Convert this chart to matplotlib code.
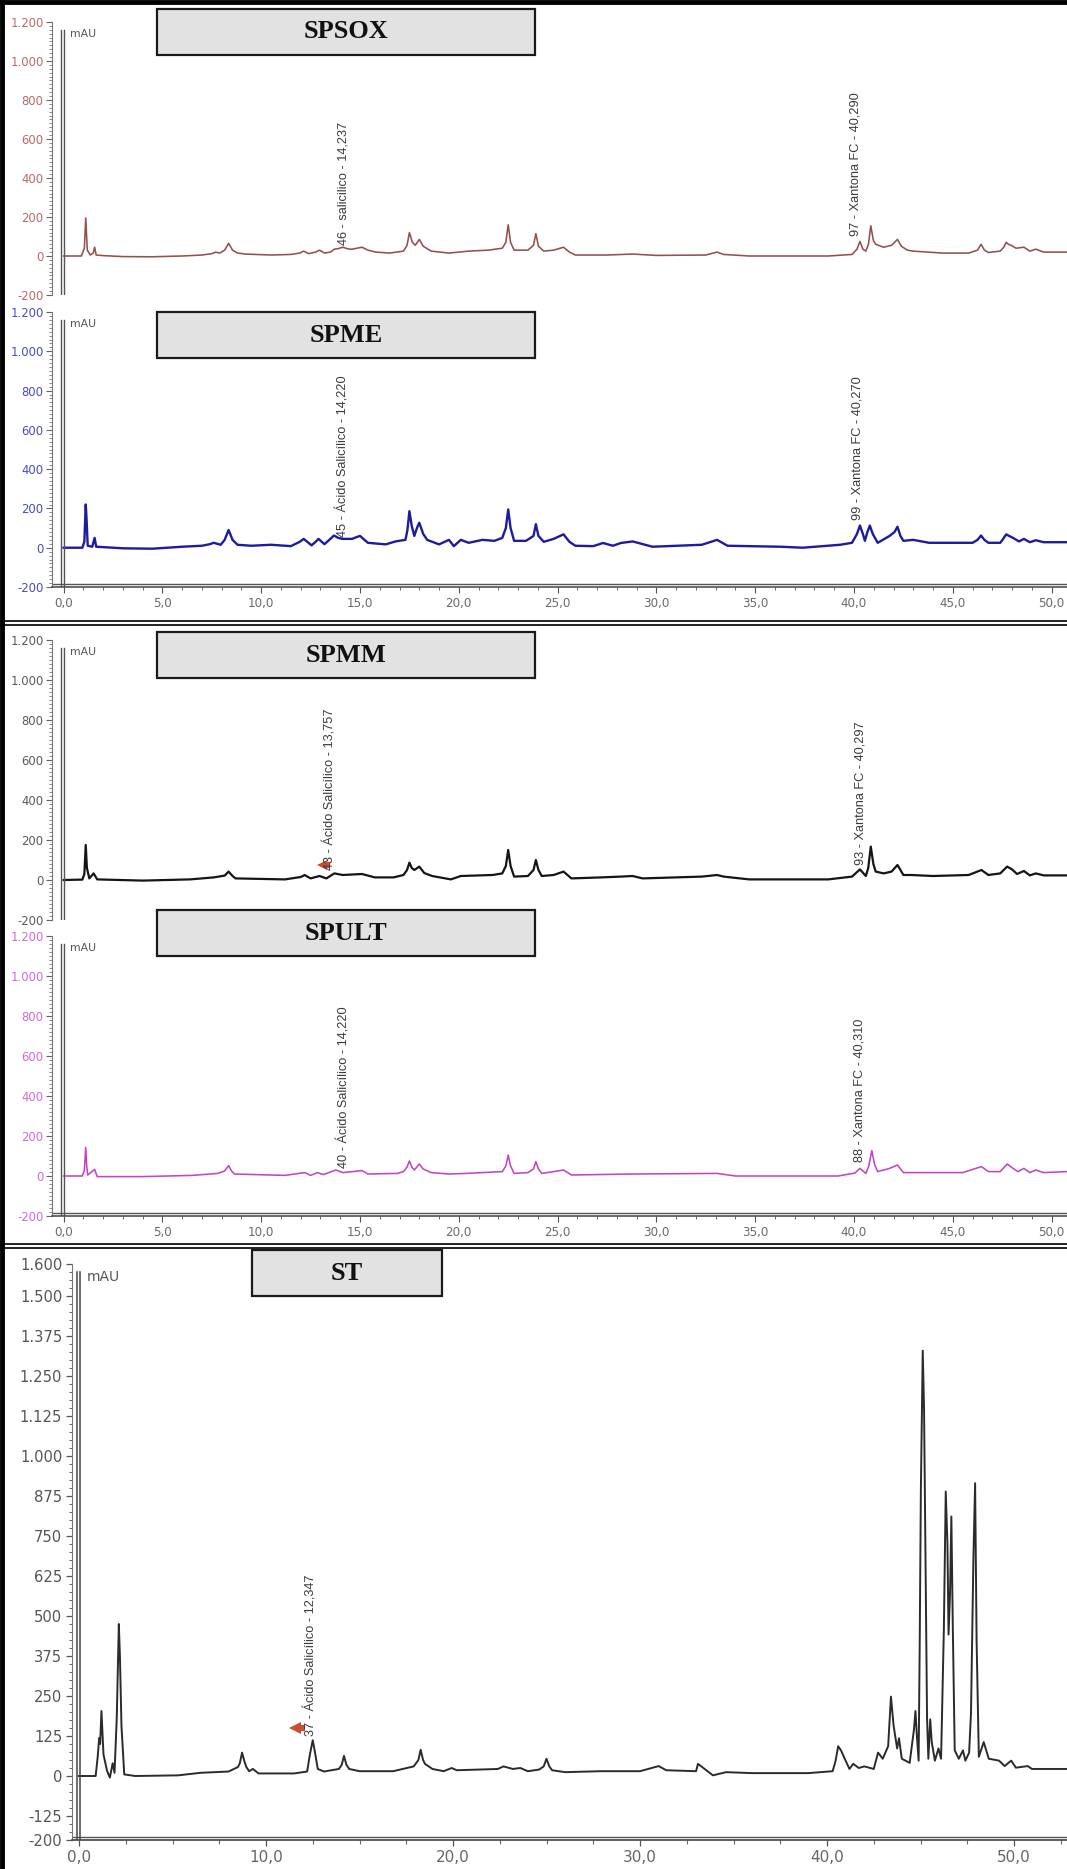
import matplotlib
matplotlib.use("Agg")
import matplotlib.pyplot as plt
from matplotlib import font_manager
from matplotlib.patches import Rectangle
from matplotlib.lines import Line2D
from matplotlib.ticker import FixedLocator, MultipleLocator, FuncFormatter

W, H = 1067, 1869

# ---- chromatogram traces: (time in min, signal in mAU) ----
spsox = [(0.0, 0), (0.9, 0), (1.05, 40), (1.12, 195), (1.2, 30), (1.35, 5), (1.5, 15), (1.57, 45),
         (1.65, 5), (2.0, 2), (3.0, -3), (4.5, -4), (6.0, 0), (7.0, 5), (7.5, 12), (7.7, 20),
         (7.9, 15), (8.15, 30), (8.35, 65), (8.55, 30), (8.8, 15), (9.2, 10), (10.5, 5), (11.5, 8),
         (11.95, 15), (12.15, 25), (12.4, 12), (12.75, 20), (12.96, 30), (13.2, 15), (13.5, 20),
         (13.7, 35), (13.9, 38), (14.13, 45), (14.4, 36), (14.6, 35), (14.85, 40), (15.1, 45),
         (15.4, 30), (15.8, 20), (16.5, 15), (17.2, 25), (17.38, 55), (17.5, 120), (17.65, 70),
         (17.8, 55), (18.0, 85), (18.2, 50), (18.6, 25), (19.5, 15), (20.5, 25), (21.5, 30),
         (22.2, 40), (22.38, 70), (22.5, 160), (22.62, 70), (22.8, 30), (23.5, 30), (23.78, 55),
         (23.9, 115), (24.03, 50), (24.3, 25), (24.8, 30), (25.3, 45), (25.6, 20), (25.9, 5),
         (27.5, 5), (28.8, 10), (30.0, 3), (32.5, 5), (33.07, 20), (33.4, 8), (34.7, 0), (38.7, 0),
         (39.9, 8), (40.15, 35), (40.3, 75), (40.45, 35), (40.6, 25), (40.73, 60), (40.85, 155),
         (40.98, 80), (41.1, 60), (41.5, 45), (41.9, 55), (42.2, 85), (42.4, 50), (42.7, 30),
         (43.0, 25), (44.5, 15), (45.8, 15), (46.25, 30), (46.43, 60), (46.6, 30), (46.8, 18),
         (47.4, 25), (47.58, 45), (47.7, 70), (47.82, 60), (47.95, 55), (48.2, 40), (48.6, 45),
         (48.9, 25), (49.2, 35), (49.6, 20), (50.8, 20)]

spme = [(0.0, 0), (0.95, 0), (1.05, 30), (1.12, 220), (1.16, 150), (1.22, 10), (1.45, 5), (1.57, 50),
        (1.65, 5), (2.0, 3), (3.0, -3), (4.5, -5), (6.0, 5), (7.0, 10), (7.4, 18), (7.6, 25),
        (7.95, 15), (8.15, 40), (8.35, 90), (8.55, 40), (8.8, 15), (9.5, 10), (10.5, 15), (11.5, 8),
        (11.95, 30), (12.15, 45), (12.55, 12), (12.75, 30), (12.9, 45), (13.2, 18), (13.5, 45),
        (13.68, 62), (13.9, 50), (14.1, 45), (14.6, 45), (14.85, 55), (15.0, 60), (15.4, 25),
        (16.3, 17), (16.8, 32), (17.3, 40), (17.4, 90), (17.5, 186), (17.62, 110), (17.75, 60),
        (17.88, 100), (18.0, 127), (18.2, 70), (18.4, 40), (19.0, 17), (19.5, 40), (19.75, 8),
        (20.1, 40), (20.5, 25), (21.2, 40), (21.8, 35), (22.2, 50), (22.38, 100), (22.5, 195),
        (22.62, 100), (22.8, 35), (23.4, 35), (23.78, 60), (23.9, 120), (24.03, 60), (24.3, 30),
        (24.8, 45), (25.3, 68), (25.6, 30), (25.9, 10), (26.8, 8), (27.3, 24), (27.8, 10),
        (28.2, 24), (28.8, 32), (29.8, 5), (32.3, 15), (33.07, 40), (33.6, 10), (36.3, 5),
        (37.4, 0), (39.3, 15), (39.9, 25), (40.15, 70), (40.3, 113), (40.45, 70), (40.55, 35),
        (40.68, 80), (40.8, 113), (40.95, 70), (41.2, 25), (41.8, 60), (42.05, 80), (42.2, 107),
        (42.35, 60), (42.5, 35), (43.0, 40), (43.8, 25), (46.0, 25), (46.25, 40), (46.43, 62),
        (46.6, 40), (46.8, 25), (47.4, 25), (47.55, 45), (47.7, 68), (47.85, 60), (48.05, 50),
        (48.35, 32), (48.6, 45), (48.9, 28), (49.2, 38), (49.6, 28), (50.8, 28)]

spmm = [(0.0, 0), (0.95, 2), (1.05, 30), (1.12, 175), (1.18, 60), (1.3, 8), (1.52, 33), (1.7, 3),
        (4.0, -3), (6.4, 3), (7.6, 13), (8.15, 22), (8.35, 42), (8.55, 20), (8.7, 8), (11.2, 3),
        (12.0, 15), (12.2, 25), (12.5, 8), (12.95, 20), (13.3, 8), (13.7, 33), (14.13, 25),
        (15.1, 30), (15.75, 13), (16.7, 13), (17.2, 25), (17.38, 50), (17.5, 87), (17.62, 60),
        (17.75, 50), (18.0, 67), (18.25, 35), (18.65, 20), (19.6, 3), (20.1, 20), (21.7, 25),
        (22.2, 33), (22.38, 70), (22.5, 150), (22.62, 70), (22.8, 17), (23.5, 20), (23.78, 50),
        (23.9, 100), (24.03, 50), (24.2, 20), (24.8, 25), (25.3, 42), (25.7, 8), (27.2, 13),
        (28.2, 17), (28.8, 20), (29.3, 8), (32.3, 17), (33.07, 25), (33.4, 17), (34.7, 3),
        (38.7, 3), (39.9, 17), (40.3, 53), (40.6, 20), (40.72, 60), (40.85, 167), (40.98, 80),
        (41.1, 42), (41.5, 33), (41.9, 42), (42.2, 75), (42.5, 25), (42.9, 25), (44.0, 20),
        (45.8, 25), (46.45, 50), (46.8, 25), (47.4, 33), (47.75, 67), (48.0, 53), (48.25, 30),
        (48.6, 45), (48.9, 23), (49.2, 33), (49.6, 23), (50.8, 23)]

spult = [(0.0, 0), (0.95, 0), (1.05, 30), (1.12, 143), (1.17, 50), (1.22, 5), (1.57, 33), (1.7, -3),
         (4.0, -3), (6.5, 3), (7.8, 13), (8.15, 25), (8.35, 52), (8.5, 25), (8.65, 10), (11.2, 3),
         (12.2, 17), (12.5, 3), (12.85, 17), (13.15, 7), (13.78, 30), (14.13, 17), (15.1, 27),
         (15.4, 10), (16.9, 13), (17.2, 22), (17.38, 45), (17.5, 75), (17.62, 45), (17.75, 30),
         (18.0, 60), (18.2, 35), (18.6, 17), (19.5, 10), (20.4, 13), (22.2, 22), (22.38, 50),
         (22.5, 105), (22.62, 50), (22.8, 13), (23.5, 17), (23.78, 35), (23.9, 72), (24.03, 35),
         (24.2, 13), (24.8, 22), (25.3, 30), (25.7, 5), (28.8, 10), (33.07, 13), (34.0, 0),
         (39.2, 0), (40.05, 15), (40.3, 38), (40.6, 13), (40.75, 50), (40.9, 127), (41.05, 55),
         (41.2, 22), (41.8, 38), (42.2, 55), (42.5, 17), (45.5, 17), (46.45, 47), (46.8, 22),
         (47.4, 22), (47.75, 60), (48.05, 38), (48.3, 22), (48.6, 38), (48.9, 17), (49.2, 30),
         (49.6, 17), (50.8, 22)]

st = [(0.0, 0), (0.89, 0), (1.0, 60), (1.08, 119), (1.13, 100), (1.2, 203), (1.31, 67), (1.5, 16),
      (1.65, -5), (1.8, 40), (1.9, 10), (2.02, 184), (2.13, 475), (2.19, 372), (2.27, 157),
      (2.42, 5), (3.0, 0), (5.3, 2), (6.5, 10), (8.0, 14), (8.5, 28), (8.6, 40), (8.72, 73),
      (8.85, 45), (8.95, 28), (9.1, 15), (9.3, 22), (9.6, 8), (11.5, 8), (12.2, 14), (12.35, 68),
      (12.5, 112), (12.6, 80), (12.77, 22), (13.1, 14), (13.9, 22), (14.05, 35), (14.17, 63),
      (14.3, 35), (14.45, 22), (15.0, 15), (16.8, 15), (17.9, 30), (18.15, 50), (18.27, 82),
      (18.4, 50), (18.5, 38), (18.9, 22), (19.5, 15), (19.93, 25), (20.2, 18), (22.4, 22),
      (22.7, 30), (23.2, 22), (23.6, 25), (24.0, 15), (24.6, 20), (24.85, 30), (25.0, 54),
      (25.15, 30), (25.3, 18), (26.0, 12), (27.9, 15), (30.0, 15), (31.0, 31), (31.4, 18),
      (33.0, 15), (33.1, 38), (33.5, 20), (33.9, 2), (34.6, 12), (36.0, 9), (39.0, 9), (40.3, 15),
      (40.45, 45), (40.6, 93), (40.75, 80), (40.9, 60), (41.2, 22), (41.4, 38), (41.7, 25),
      (42.0, 30), (42.5, 22), (42.73, 73), (42.98, 54), (43.27, 93), (43.42, 248), (43.56, 158),
      (43.75, 86), (43.85, 118), (44.0, 54), (44.42, 41), (44.65, 145), (44.73, 203), (44.8, 132),
      (44.9, 48), (44.96, 430), (45.02, 896), (45.12, 1329), (45.19, 1148), (45.27, 669),
      (45.35, 183), (45.42, 54), (45.52, 177), (45.6, 106), (45.77, 48), (45.96, 86), (46.1, 54),
      (46.25, 462), (46.35, 889), (46.44, 727), (46.5, 442), (46.58, 572), (46.65, 811),
      (46.73, 455), (46.83, 80), (47.05, 54), (47.27, 80), (47.4, 48), (47.6, 73), (47.7, 196),
      (47.83, 682), (47.92, 915), (48.0, 423), (48.12, 60), (48.27, 86), (48.38, 106), (48.65, 54),
      (49.2, 48), (49.5, 31), (49.85, 48), (50.1, 26), (50.73, 31), (50.96, 22), (52.8, 22)]

# peak labels: (time, height where the text starts, text)
spsox_labels = [(14.14, 56, "46 - salicilico - 14,237"), (40.1, 100, "97 - Xantona FC - 40,290")]
spme_labels = [(14.13, 56, "45 - Ácido Salicílico - 14,220"), (40.2, 142, "99 - Xantona FC - 40,270")]
spmm_labels = [(13.5, 50, "43 - Ácido Salicílico - 13,757"), (40.33, 75, "93 - Xantona FC - 40,297")]
spult_labels = [(14.17, 40, "40 - Ácido Salicílico - 14,220"), (40.3, 70, "88 - Xantona FC - 40,310")]
st_labels = [(12.4, 125, "37 - Ácido Salicílico - 12,347")]

# red integration flags (time, mAU)
spmm_flag = (13.1, 75)
st_flag = (11.55, 150)

panel_yticks = [-200, 0, 200, 400, 600, 800, 1000, 1200]
st_yticks = [-200, -125, 0, 125, 250, 375, 500, 625, 750, 875, 1000, 1125, 1250, 1375, 1500, 1600]
panel_xticks = [0, 5, 10, 15, 20, 25, 30, 35, 40, 45, 50]
st_xticks = [0, 10, 20, 30, 40, 50]

names = {f.name for f in font_manager.fontManager.ttflist}
if "Liberation Sans Narrow" in names:
    ann_family, ann_size = "Liberation Sans Narrow", 10.8
else:
    ann_family, ann_size = "Liberation Sans", 9.2


def thousands(v, pos=None):
    return f"{int(round(v)):,}".replace(",", ".")


def decimal_comma(v, pos=None):
    return f"{v:.1f}".replace(".", ",")


fig = plt.figure(figsize=(W / 100, H / 100), dpi=100)
fig.patch.set_facecolor("white")


def px_axes(x0, y_top, x1, y_bot):
    return fig.add_axes([x0 / W, 1 - y_bot / H, (x1 - x0) / W, (y_bot - y_top) / H])


def title_box(x0, y0, x1, y1, name):
    fig.add_artist(Rectangle((x0 / W, 1 - y1 / H), (x1 - x0) / W, (y1 - y0) / H,
                             transform=fig.transFigure, fc="#e2e2e2", ec="#1a1a1a", lw=1.6))
    fig.text((x0 + x1) / 2 / W, 1 - (y0 + y1) / 2 / H, name, ha="center", va="center",
             fontsize=19, fontweight="bold", family="Liberation Serif", color="#111111")


def hline(y, lw=1.3):
    fig.add_artist(Line2D([0, 1], [1 - y / H] * 2, transform=fig.transFigure, color="#111111", lw=lw))


# (name, trace, colour, tick colour, lw, y px of 1200, y px of -200, x axis?, labels, box top)
panels = [
    ("SPSOX", spsox, "#93504f", "#b86a6a", 1.15, 22, 295, False, spsox_labels, 9),
    ("SPME", spme, "#1c1c9e", "#4a4ac4", 1.7, 312, 587, True, spme_labels, 312),
    ("SPMM", spmm, "#151515", "#5a5a5a", 1.6, 640, 920, False, spmm_labels, 632),
    ("SPULT", spult, "#c246c2", "#d36ad3", 1.15, 936, 1216, True, spult_labels, 910),
]

X0_PX, X_SCALE = 63.6, 19.76
for name, trace, col, tcol, lw, ytop, ybot, has_x, labels, box_top in panels:
    t, v = zip(*trace)
    ax = px_axes(52, ytop, W, ybot)
    ax.set_xlim((52 - X0_PX) / X_SCALE, (W - X0_PX) / X_SCALE)
    ax.set_ylim(-200, 1200)
    ax.plot(t, v, color=col, lw=lw, solid_joinstyle="round")

    for s in ("top", "right"):
        ax.spines[s].set_visible(False)
    ax.spines["left"].set_color("#777777")
    ax.spines["left"].set_linewidth(0.8)
    ax.yaxis.set_major_locator(FixedLocator(panel_yticks))
    ax.yaxis.set_minor_locator(MultipleLocator(20))
    ax.yaxis.set_major_formatter(FuncFormatter(thousands))
    ax.tick_params(axis="y", which="major", direction="out", length=4, width=0.8,
                   color="#666666", labelcolor=tcol, labelsize=8.4, pad=2)
    ax.tick_params(axis="y", which="minor", direction="out", length=2.5, width=0.6, color="#777777")
    # double axis line drawn by the instrument software
    ax.axvline(-0.13, ymax=0.97, color="#555555", lw=1.0)
    ax.axvline(0.02, ymax=0.97, color="#555555", lw=1.0)

    if has_x:
        ax.spines["bottom"].set_color("#444444")
        ax.spines["bottom"].set_linewidth(1.1)
        ax.axhline(-185, color="#555555", lw=1.0)
        ax.xaxis.set_major_locator(FixedLocator(panel_xticks))
        ax.xaxis.set_minor_locator(MultipleLocator(1))
        ax.xaxis.set_major_formatter(FuncFormatter(decimal_comma))
        ax.tick_params(axis="x", which="major", direction="out", length=4, width=0.8,
                       color="#555555", labelcolor="#6a6a6a", labelsize=8.6, pad=3)
        ax.tick_params(axis="x", which="minor", direction="out", length=2.5, width=0.7, color="#666666")
    else:
        ax.spines["bottom"].set_visible(False)
        ax.tick_params(axis="x", which="both", bottom=False, labelbottom=False)

    for lt, ly, txt in labels:
        ax.text(lt, ly, txt, rotation=90, ha="center", va="bottom", fontsize=ann_size,
                family=ann_family, color="#3a3a3a")

    if name == "SPMM":
        ax.plot(spmm_flag[0] + 0.25, spmm_flag[1], marker="s", ms=4, color="#c9502f", mew=0)
        ax.plot(spmm_flag[0], spmm_flag[1], marker="<", ms=7, color="#c9502f", mew=0)

    fig.text(70 / W, 1 - (ytop + 12) / H, "mAU", fontsize=7.8, color="#555555", va="center")
    title_box(157, box_top, 535, box_top + 46, name)

# ---- ST, standard chromatogram ----
ST_X0, ST_SCALE = 79, 18.7
st_t, st_v = zip(*st)
ax = px_axes(72, 1264, W, 1840)
ax.set_xlim((72 - ST_X0) / ST_SCALE, (W - ST_X0) / ST_SCALE)
ax.set_ylim(-200, 1600)
ax.plot(st_t, st_v, color="#2b2b2b", lw=1.4, solid_joinstyle="round")
for s in ("top", "right"):
    ax.spines[s].set_visible(False)
ax.spines["left"].set_color("#777777")
ax.spines["left"].set_linewidth(0.8)
ax.spines["bottom"].set_color("#444444")
ax.spines["bottom"].set_linewidth(1.2)
ax.axhline(-190.6, color="#555555", lw=1.0)
ax.axvline(-0.11, ymax=0.986, color="#444444", lw=1.1)
ax.axvline(0.05, ymax=0.986, color="#444444", lw=1.1)
ax.yaxis.set_major_locator(FixedLocator(st_yticks))
ax.yaxis.set_minor_locator(MultipleLocator(25))
ax.yaxis.set_major_formatter(FuncFormatter(thousands))
ax.tick_params(axis="y", which="major", direction="out", length=4, width=0.9,
               color="#555555", labelcolor="#555555", labelsize=10.6, pad=3)
ax.tick_params(axis="y", which="minor", direction="out", length=2.5, width=0.7, color="#666666")
ax.xaxis.set_major_locator(FixedLocator(st_xticks))
ax.xaxis.set_minor_locator(MultipleLocator(2.5))
ax.xaxis.set_major_formatter(FuncFormatter(decimal_comma))
ax.tick_params(axis="x", which="major", direction="out", length=4, width=0.9,
               color="#555555", labelcolor="#666666", labelsize=11, pad=3)
ax.tick_params(axis="x", which="minor", direction="out", length=3, width=0.8, color="#666666")
for lt, ly, txt in st_labels:
    ax.text(lt, ly, txt, rotation=90, ha="center", va="bottom", fontsize=ann_size,
            family=ann_family, color="#3a3a3a")
ax.plot(st_flag[0] + 0.35, st_flag[1], marker="s", ms=5, color="#c9502f", mew=0)
ax.plot(st_flag[0], st_flag[1], marker="<", ms=9, color="#c9502f", mew=0)
fig.text(87 / W, 1 - 1277 / H, "mAU", fontsize=10, color="#555555", va="center")
title_box(252, 1250, 442, 1296, "ST")

# frame and separators between the three pasted chromatograms
hline(621)
hline(625)
hline(1244)
hline(1248)
fig.add_artist(Line2D([2 / W, 2 / W], [0, 1], transform=fig.transFigure, color="black", lw=3.5))
fig.add_artist(Line2D([0, 1], [1 - 2 / H] * 2, transform=fig.transFigure, color="black", lw=3.5))

fig.savefig("out.png", dpi=100, facecolor="white")
plt.close(fig)
